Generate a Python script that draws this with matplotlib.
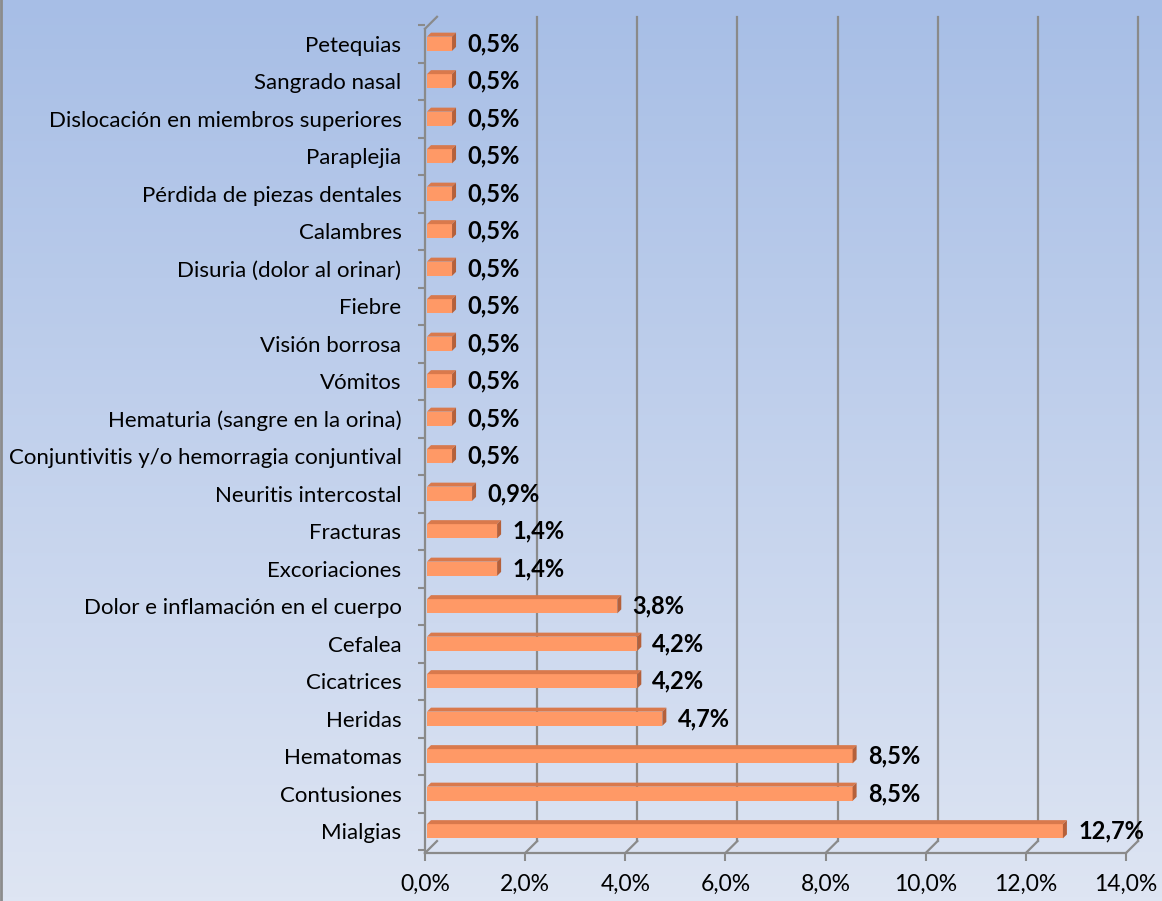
import numpy as np
import matplotlib.pyplot as plt
import matplotlib.transforms as mtransforms
from matplotlib.patches import Polygon
from matplotlib.ticker import FuncFormatter

# categories listed bottom -> top
categories = ['Mialgias', 'Contusiones', 'Hematomas', 'Heridas', 'Cicatrices', 'Cefalea',
              'Dolor e inflamación en el cuerpo', 'Excoriaciones', 'Fracturas',
              'Neuritis intercostal', 'Conjuntivitis y/o hemorragia conjuntival',
              'Hematuria (sangre en la orina)', 'Vómitos', 'Visión borrosa', 'Fiebre',
              'Disuria (dolor al orinar)', 'Calambres', 'Pérdida de piezas dentales',
              'Paraplejia', 'Dislocación en miembros superiores', 'Sangrado nasal', 'Petequias']
values = [12.7, 8.5, 8.5, 4.7, 4.2, 4.2, 3.8, 1.4, 1.4, 0.9, 0.5,
          0.5, 0.5, 0.5, 0.5, 0.5, 0.5, 0.5, 0.5, 0.5, 0.5, 0.5]
xticks = [0, 2, 4, 6, 8, 10, 12, 14]

plt.rcParams['font.family'] = ['Lato', 'DejaVu Sans']

fig = plt.figure(figsize=(11.62, 9.01), dpi=100)

# background gradient
bg = fig.add_axes([0, 0, 1, 1], zorder=-10)
grad = np.linspace(0, 1, 256).reshape(-1, 1)
top_c = np.array([0xA7, 0xBE, 0xE6]) / 255
bot_c = np.array([0xDE, 0xE5, 0xF3]) / 255
img = top_c + (bot_c - top_c) * grad[:, :, None]
bg.imshow(img, aspect='auto', extent=[0, 1, 0, 1], origin='upper')
bg.plot([0.001, 0.001], [0, 1], color='#8c8c8c', lw=2)
bg.set_xlim(0, 1); bg.set_ylim(0, 1)
bg.axis('off')

ax = fig.add_axes([425 / 1162, 1 - 853 / 901, 701 / 1162, (853 - 25) / 901])
ax.patch.set_alpha(0)
y = np.arange(len(categories))
ylo, yhi = -0.58, len(categories) - 1 + 0.4
ax.set_xlim(0, 14)
ax.set_ylim(ylo, yhi)

grid_c = '#8a8a8a'
back = ax.transData + mtransforms.ScaledTranslation(0.12, 0.12, fig.dpi_scale_trans)
bdx = 0.12 * 100 / (701 / 14)
bdy = 0.12 * 100 / ((853 - 25) / (yhi - ylo))
for t in xticks:
    if t > 0:
        ax.plot([t, t], [ylo, yhi], color=grid_c, lw=1.6, transform=back, clip_on=False, zorder=1)
    ax.plot([t, t + bdx], [ylo, ylo + bdy], color=grid_c, lw=1.6, clip_on=False, zorder=1)
ax.plot([0, 0], [ylo, yhi], color=grid_c, lw=1.6, clip_on=False, zorder=1)
ax.plot([0, bdx], [yhi, yhi + bdy], color=grid_c, lw=1.6, clip_on=False, zorder=1)
ax.plot([0, 14], [ylo, ylo], color=grid_c, lw=1.6, clip_on=False, zorder=1)

# 3D-ish bars
h = 0.38
dx = 4 / (701 / 14)
dy = 4 / ((853 - 25) / (yhi - ylo))
ax.barh(y, values, height=h, left=0.04, color='#FF9966', edgecolor='none', zorder=3)
for yi, v in zip(y, values):
    x1 = 0.04 + v
    ax.add_patch(Polygon([(0.04, yi + h / 2), (x1, yi + h / 2), (x1 + dx, yi + h / 2 + dy),
                          (0.04 + dx, yi + h / 2 + dy)], closed=True, color='#D9794C', lw=0, zorder=3))
    ax.add_patch(Polygon([(x1, yi - h / 2), (x1 + dx, yi - h / 2 + dy), (x1 + dx, yi + h / 2 + dy),
                          (x1, yi + h / 2)], closed=True, color='#B5603A', lw=0, zorder=3))
    ax.annotate(f'{v:.1f}%'.replace('.', ','), (x1 + dx, yi), xytext=(8, 0),
                textcoords='offset points', va='center', ha='left',
                fontsize=17, fontweight='bold', color='black', clip_on=False)

for s in ax.spines.values():
    s.set_visible(False)

ax.set_yticks(y)
ax.set_yticklabels(categories)
ax.set_yticks(np.arange(len(categories) + 1) - 0.5 + 0.0, minor=True)
ax.tick_params(axis='y', which='major', length=0, pad=17, labelsize=16)
ax.tick_params(axis='y', which='minor', length=5, width=1.5, color=grid_c)
ax.set_xticks(xticks)
ax.xaxis.set_major_formatter(FuncFormatter(lambda v, p: f'{v:.1f}%'.replace('.', ',')))
ax.tick_params(axis='x', length=6, width=1.5, color=grid_c, labelsize=16.5, pad=9)

fig.savefig('out.png', dpi=100)
